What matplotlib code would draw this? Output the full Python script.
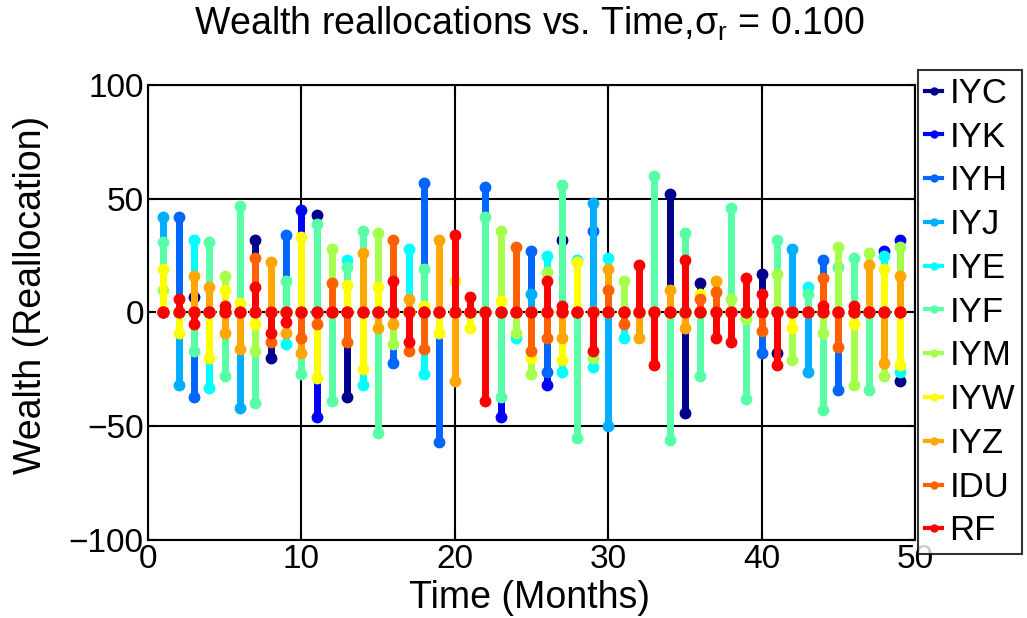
import numpy as np
import matplotlib
matplotlib.use("Agg")
import matplotlib.pyplot as plt
from matplotlib.lines import Line2D

plt.rcParams['font.family'] = ['Liberation Sans', 'DejaVu Sans']

months = np.arange(1, 50)
names = ["IYC", "IYK", "IYH", "IYJ", "IYE", "IYF", "IYM", "IYW", "IYZ", "IDU", "RF"]
colors = [(0, 0, 0.55), (0, 0, 1), (0, 0.4, 1), (0, 0.68, 1), (0, 1, 1),
          (0.35, 1, 0.65), (0.65, 1, 0.3), (1, 1, 0), (1, 0.65, 0),
          (1, 0.38, 0), (1, 0, 0)]

# reallocation per month (1..49) for each fund
IYC = [0, 0, 7, 0, 0, 0, 32, -20, 0, 0, 43, 0, -37, 0, 0, 0, 0, 0, 0, 0,
       0, 0, 0, 0, 0, 0, 32, 0, 0, 0, 0, 0, 0, 52, -44, 13, 0, 0, 0, 17,
       -18, 0, 0, 0, 0, 0, 0, 0, -30]
IYK = [0, 0, 0, 0, 0, 0, 0, 0, 0, 45, -46, 0, 0, 0, 0, 0, 0, 0, 0, 0,
       0, 0, -46, 0, 0, -32, 0, 0, 0, 0, 0, 0, 0, 0, 0, 0, 0, 0, 0, 0,
       0, 0, 0, 0, 0, 0, 0, 27, 32]
IYH = [0, 42, -37, 0, 0, 0, 0, 0, 34, 0, 0, 0, 0, 0, 0, -22, 0, 57, -57, 0,
       0, 55, 0, 0, 27, -26, 0, 0, 36, 0, 0, 0, 0, 0, 0, 0, 0, 0, 0, -18,
       0, 0, 0, 23, -34, 0, 0, 0, 0]
IYJ = [42, -32, 0, 0, 0, -42, 0, 0, 0, 0, 0, 0, 0, 0, 0, 0, 0, 0, 0, 0,
       0, 0, 0, 0, 8, 0, 0, 0, 48, -50, 0, 0, 0, 0, 0, 0, 0, 0, 0, 0,
       0, 28, -26, 0, 0, 0, 0, 0, 0]
IYE = [0, 0, 32, -33, 0, 0, 0, 0, -14, 0, 0, 0, 23, -32, 0, 0, 28, -27, 0, 0,
       0, 0, 0, -11, 0, 25, -26, 23, -24, 24, -11, 0, 0, 0, 0, 0, 0, 0, 0, 0,
       0, 0, 11, 0, 0, 0, 0, 25, -26]
IYF = [31, 0, -17, 31, -28, 47, -40, 0, 14, -27, 39, -39, 20, 36, -53, 0, 0, 19, 0, 0,
       0, 42, -37, 0, 0, 0, 56, -55, 0, 0, 0, 0, 60, -56, 35, -28, 0, 46, -38, 0,
       32, 0, 8, -43, 20, 24, -34, 0, 0]
IYM = [10, 0, 0, 0, 16, 0, -17, 0, 0, 0, 0, 28, 0, 0, 35, -14, 0, 0, 0, 0,
       0, 0, 36, -9, -27, 18, 0, 0, -20, 0, 14, 0, 0, 0, 0, 0, 0, 6, -3, 0,
       17, -21, 0, -9, 29, -32, 26, -28, 29]
IYW = [19, -9, 0, -20, 10, 4, -5, 0, 0, 33, -29, 0, 12, -25, 11, 0, 0, 3, -9, 14,
       -7, 0, 5, 0, -20, 0, -21, 22, 0, 0, 0, 0, 0, 0, 0, 8, 0, 0, 0, 0,
       0, -7, 0, 0, 0, -5, 0, 19, -23]
IYZ = [0, 0, 16, 11, -9, -16, 0, 22, -9, -18, 0, 0, 0, 26, -7, -5, 6, 0, 32, -30,
       0, 0, 0, 0, 0, 0, -11, 0, 0, 19, 0, -11, 0, 10, -7, 0, 14, 0, 0, 0,
       0, 0, 0, 0, 0, 0, 21, -22, 16]
IDU = [0, 0, 0, 0, 0, 0, 24, -13, 0, -11, -5, 13, -13, 0, 0, 32, -17, -16, 0, 0,
       0, 0, 0, 29, -17, -11, 0, 0, 0, 10, -5, 0, 0, 0, 0, 6, 9, 0, 0, -8,
       0, 0, 0, 15, -15, 0, 0, 0, 0]
RF = [0, 6, -5, 0, 3, 0, 11, -9, -4, 0, 0, 0, 0, 0, 0, 14, -13, 0, 0, 34,
      7, -39, 0, 0, 0, 14, 3, 0, -17, 0, 0, 21, -23, 0, 23, 0, -11, -13, 15, 8,
      -23, 0, 0, 3, 0, 3, 0, 0, 0]

series = [IYC, IYK, IYH, IYJ, IYE, IYF, IYM, IYW, IYZ, IDU, RF]

fig = plt.figure(figsize=(10.27, 6.18), dpi=100)
ax = fig.add_axes([0.1441, 0.1262, 0.7468, 0.7363])

for vals, c in zip(series, colors):
    vals = np.array(vals, dtype=float)
    ax.vlines(months, 0, vals, color=c, lw=5)
    ax.plot(months, vals, 'o', color=c, ms=7.5, mec=c)
    ax.plot(months, np.zeros_like(vals), 'o', color=c, ms=7.5, mec=c)

ax.set_xlim(0, 50)
ax.set_ylim(-100, 100)
ax.set_xticks(np.arange(0, 51, 10))
ax.set_yticks([-100, -50, 0, 50, 100])
ax.grid(True, color='black', lw=1.5, zorder=0)
ax.set_axisbelow(True)
for gl, yv in zip(ax.get_ygridlines(), [-100, -50, 0, 50, 100]):
    if yv == 0:
        gl.set_visible(False)
ax.axhline(0, color='black', lw=1.5, ls=(0, (3, 3)), zorder=1.5)

ax.tick_params(direction='in', length=6, width=1.5, labelsize=24,
               top=True, right=True, pad=3)
for s in ax.spines.values():
    s.set_linewidth(1.5)

fig.text(0.515, 0.962, r"Wealth reallocations vs. Time,$\mathregular{\sigma_r}$ = 0.100",
         fontsize=27, ha='center', va='center')
fig.text(0.516, 0.032, "Time (Months)", fontsize=27, ha='center', va='center')
fig.text(0.030, 0.523, "Wealth (Reallocation)", fontsize=27, ha='center',
         va='center', rotation=90)

handles = [Line2D([0], [0], color=c, lw=3, marker='o', ms=5) for c in colors]
leg = fig.legend(handles, names, loc='upper left', bbox_to_anchor=(0.894, 0.887),
                 fontsize=25, frameon=True, fancybox=False, edgecolor='black',
                 handlelength=0.5, handletextpad=0.2, labelspacing=0.31,
                 borderpad=0.2, borderaxespad=0)
leg.get_frame().set_linewidth(1.5)

fig.savefig("out.png", dpi=100)
